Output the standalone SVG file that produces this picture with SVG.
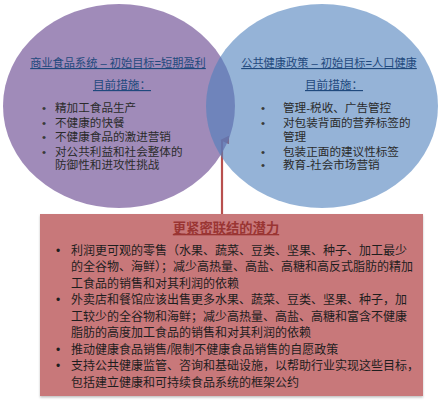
<svg xmlns="http://www.w3.org/2000/svg" width="441" height="400" viewBox="0 0 441 400">
<defs>
<style>
text{font-family:"Liberation Sans","Noto Sans CJK SC",sans-serif;}
.ct{font-size:11.6px;fill:#2b2b2b;}
.bt{font-size:12px;fill:#1e1e1e;}
.title{font-size:11.2px;fill:#1f497d;text-decoration:underline;text-anchor:middle;}
.sub{font-size:11.6px;fill:#1f497d;text-decoration:underline;text-anchor:middle;}
.btitle{font-size:13.3px;font-weight:bold;fill:#9a3533;text-decoration:underline;text-anchor:middle;}
.bul{fill:#3a3a3a;}
</style>
<marker id="ah" viewBox="0 0 10 10" refX="5" refY="2" markerWidth="4" markerHeight="5" orient="auto-start-reverse" markerUnits="strokeWidth">
<path d="M0,10 L5,0 L10,10 z" fill="#b8504e"/>
</marker>
<filter id="sh" x="-5%" y="-5%" width="110%" height="115%">
<feDropShadow dx="0" dy="1.5" stdDeviation="1.2" flood-color="#000" flood-opacity="0.25"/>
</filter>
</defs>
<rect width="441" height="400" fill="#ffffff"/>
<g id="connectors">
<line x1="222" y1="214" x2="222" y2="140" stroke="#b8504e" stroke-width="2.2" marker-end="url(#ah)"/>
</g>
<g id="node-commercial">
<ellipse cx="119" cy="106" rx="116" ry="102" fill="#8064a2" fill-opacity="0.75"/>
</g>
<g id="node-publichealth">
<ellipse cx="322" cy="106" rx="116" ry="102" fill="#4f81bd" fill-opacity="0.6"/>
</g>
<g id="text-commercial">
<text class="title" x="118" y="67">商业食品系统 – 初始目标=短期盈利</text>
<text class="sub" x="122" y="89">目前措施：</text>
<g class="ct">
<text x="42" y="112" class="bul">•</text><text x="55" y="112">精加工食品生产</text>
<text x="42" y="127" class="bul">•</text><text x="55" y="127">不健康的快餐</text>
<text x="42" y="141" class="bul">•</text><text x="55" y="141">不健康食品的激进营销</text>
<text x="42" y="156" class="bul">•</text><text x="55" y="156">对公共利益和社会整体的</text>
<text x="55" y="169">防御性和进攻性挑战</text>
</g>
</g>
<g id="text-publichealth">
<text class="title" x="329" y="67">公共健康政策 – 初始目标=人口健康</text>
<text class="sub" x="334" y="89">目前措施：</text>
<g class="ct">
<text x="261" y="112" class="bul">•</text><text x="283" y="112">管理-税收、广告管控</text>
<text x="261" y="127" class="bul">•</text><text x="283" y="127">对包装背面的营养标签的</text>
<text x="283" y="141">管理</text>
<text x="261" y="156" class="bul">•</text><text x="283" y="156">包装正面的建议性标签</text>
<text x="261" y="169" class="bul">•</text><text x="283" y="169">教育-社会市场营销</text>
</g>
</g>
<g id="node-potential">
<rect x="40" y="214" width="383" height="182" fill="#c8787a" filter="url(#sh)"/>
<text class="btitle" x="226" y="233">更紧密联结的潜力</text>
<g class="bt">
<text x="56" y="254.5">•</text><text x="71" y="254.5">利润更可观的零售（水果、蔬菜、豆类、坚果、种子、加工最少</text>
<text x="71" y="271">的全谷物、海鲜）；减少高热量、高盐、高糖和高反式脂肪的精加</text>
<text x="71" y="287.5">工食品的销售和对其利润的依赖</text>
<text x="56" y="304">•</text><text x="71" y="304">外卖店和餐馆应该出售更多水果、蔬菜、豆类、坚果、种子，加</text>
<text x="71" y="320.5">工较少的全谷物和海鲜；减少高热量、高盐、高糖和富含不健康</text>
<text x="71" y="337">脂肪的高度加工食品的销售和对其利润的依赖</text>
<text x="56" y="353.5">•</text><text x="71" y="353.5">推动健康食品销售/限制不健康食品销售的自愿政策</text>
<text x="56" y="370">•</text><text x="71" y="370">支持公共健康监管、咨询和基础设施，以帮助行业实现这些目标，</text>
<text x="71" y="386.5">包括建立健康和可持续食品系统的框架公约</text>
</g>
</g>
</svg>
